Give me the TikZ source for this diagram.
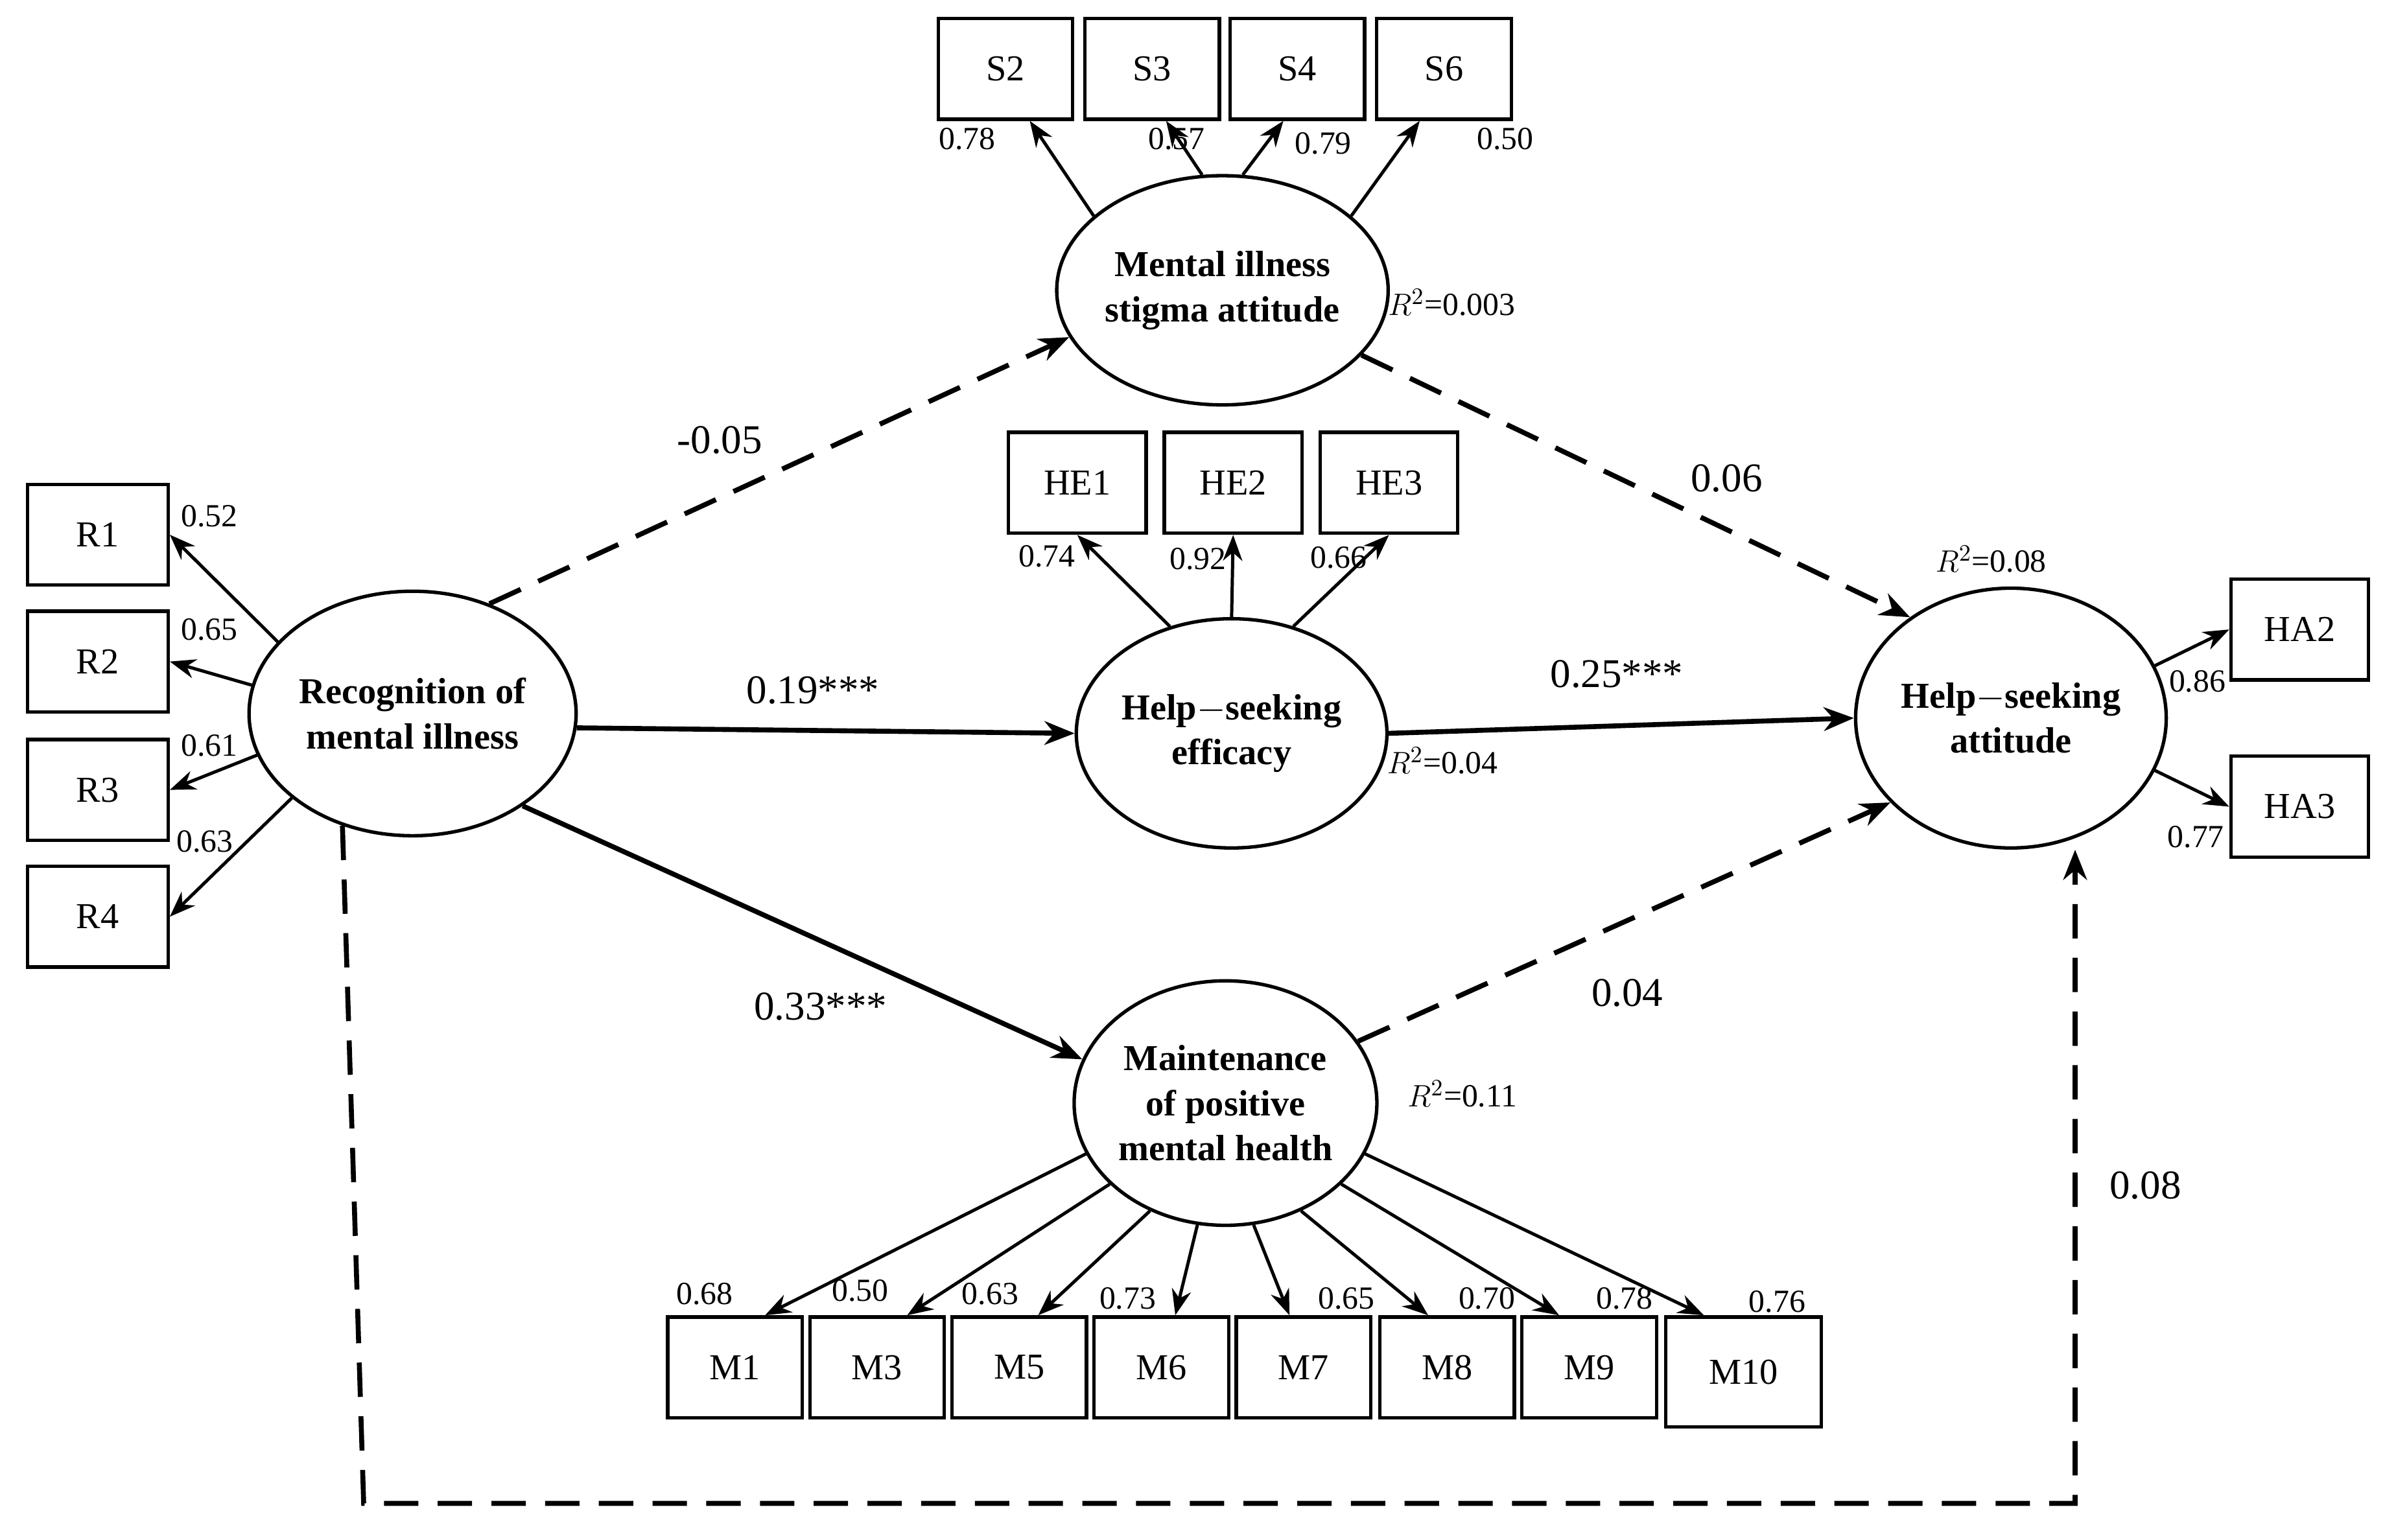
\documentclass[tikz,border=0pt]{standalone}
\usepackage{fontspec}
\setmainfont{Liberation Serif}
\usetikzlibrary{shapes.geometric,arrows.meta}
\begin{document}
\begin{tikzpicture}[x=0.025cm,y=-0.025cm,
  box/.style={draw,line width=1.6pt,minimum width=2.2cm,minimum height=1.65cm,inner sep=0pt,font=\fontsize{17}{20}\selectfont},
  lat/.style={draw,ellipse,line width=1.6pt,inner sep=0pt,align=center,font=\bfseries\fontsize{17}{21}\selectfont},
  ar/.style={line width=1.5pt,-{Stealth[length=12pt,width=9pt]}},
  thk/.style={line width=2.3pt,-{Stealth[length=14pt,width=11pt]}},
  dsh/.style={thk,dash pattern=on 16pt off 9pt},
  ld/.style={font=\fontsize{15}{17}\selectfont,inner sep=0pt},
  pl/.style={font=\fontsize{19}{22}\selectfont,inner sep=0pt}]
\useasboundingbox (0,0) rectangle (1568,1008);
% latent
\node[lat,minimum width=4.8cm,minimum height=3.75cm] (mi) at (800,190) {Mental illness\\stigma attitude};
\node[lat,minimum width=4.85cm,minimum height=3.75cm] (he) at (806,480) {Help$-$seeking\\efficacy};
\node[lat,minimum width=5.35cm,minimum height=4cm] (rec) at (270,467) {Recognition of\\mental illness};
\node[lat,minimum width=4.8cm,minimum height=4.25cm] (ha) at (1316,470) {Help$-$seeking\\attitude};
\node[lat,minimum width=4.85cm,minimum height=4cm] (mp) at (802,722) {Maintenance\\of positive\\mental health};
% boxes
\node[box] (S2) at (658,45) {S2};
\node[box] (S3) at (754,45) {S3};
\node[box] (S4) at (849,45) {S4};
\node[box] (S6) at (945,45) {S6};
\node[box,minimum width=2.25cm] (HE1) at (705,316) {HE1};
\node[box,minimum width=2.25cm] (HE2) at (807,316) {HE2};
\node[box,minimum width=2.25cm] (HE3) at (909,316) {HE3};
\node[box,minimum width=2.3cm] (R1) at (64,350) {R1};
\node[box,minimum width=2.3cm] (R2) at (64,433) {R2};
\node[box,minimum width=2.3cm] (R3) at (64,517) {R3};
\node[box,minimum width=2.3cm] (R4) at (64,600) {R4};
\node[box,minimum width=2.25cm] (HA2) at (1505,412) {HA2};
\node[box,minimum width=2.25cm] (HA3) at (1505,528) {HA3};
\node[box] (M1) at (481,895) {M1};
\node[box] (M3) at (574,895) {M3};
\node[box] (M5) at (667,895) {M5};
\node[box] (M6) at (760,895) {M6};
\node[box] (M7) at (853,895) {M7};
\node[box] (M8) at (947,895) {M8};
\node[box] (M9) at (1040,895) {M9};
\node[box,minimum width=2.55cm,minimum height=1.8cm] (M10) at (1141,898) {M10};
% indicator arrows
\draw[ar] (mi.150) -- (S2.-65);
\draw[ar] (mi.100) -- (S3.-75);
\draw[ar] (mi.80) -- (S4.-105);
\draw[ar] (mi.30) -- (S6.-115);
\draw[ar] (he.120) -- (HE1.-90);
\draw[ar] (he.90) -- (HE2.south);
\draw[ar] (he.60) -- (HE3.-90);
\draw[ar] (rec.152) -- (R1.east);
\draw[ar] (rec.170) -- (R2.east);
\draw[ar] (rec.195) -- (R3.east);
\draw[ar] (rec.215) -- (R4.east);
\draw[ar] (ha.20) -- (HA2.west);
\draw[ar] (ha.-20) -- (HA3.west);
\draw[ar] (mp.200) -- (M1.60);
\draw[ar] (mp.215) -- (M3.60);
\draw[ar] (mp.235) -- (M5.70);
\draw[ar] (mp.257) -- (M6.75);
\draw[ar] (mp.283) -- (M7.105);
\draw[ar] (mp.305) -- (M8.110);
\draw[ar] (mp.325) -- (M9.120);
\draw[ar] (mp.340) -- (M10.125);
% structural
\draw[dsh] (rec.55) -- (mi.197);
\draw[dsh] (mi.-25) -- (ha.135);
\draw[thk] (rec.-5) -- (he.west);
\draw[thk] (he.east) -- (ha.west);
\draw[thk] (rec.-40) -- (mp.163);
\draw[dsh] (mp.25) -- (ha.215);
\coordinate (c1) at (238,984);
\coordinate (c2) at (1358,984);
\draw[dsh] (rec.238) -- (238,984) -- (c2) -- (ha.south -| c2);
% path labels
\node[pl] (p1) at (471,288) {-0.05};
\node[pl] (p2) at (1130,313) {0.06};
\node[pl] (p3) at (532,452) {0.19***};
\node[pl] (p4) at (1058,441) {0.25***};
\node[pl] (p5) at (537,659) {0.33***};
\node[pl] (p6) at (1065,650) {0.04};
\node[pl] (p7) at (1404,776) {0.08};
% loadings
\node[ld] (l1) at (633,91) {0.78};
\node[ld] (l2) at (770,91) {0.57};
\node[ld] (l3) at (866,94) {0.79};
\node[ld] (l4) at (985,91) {0.50};
\node[ld] (l5) at (685,364) {0.74};
\node[ld] (l6) at (784,366) {0.92};
\node[ld] (l7) at (876,365) {0.66};
\node[ld] (l8) at (137,338) {0.52};
\node[ld] (l9) at (137,412) {0.65};
\node[ld] (l10) at (137,488) {0.61};
\node[ld] (l11) at (134,551) {0.63};
\node[ld] (l12) at (1438,446) {0.86};
\node[ld] (l13) at (1437,548) {0.77};
\node[ld] (l14) at (461,847) {0.68};
\node[ld] (l15) at (563,845) {0.50};
\node[ld] (l16) at (648,847) {0.63};
\node[ld] (l17) at (738,850) {0.73};
\node[ld] (l18) at (881,850) {0.65};
\node[ld] (l19) at (973,850) {0.70};
\node[ld] (l20) at (1063,850) {0.78};
\node[ld] (l21) at (1163,852) {0.76};
% R2
\node[ld] (r1) at (950,198) {$R^2$=0.003};
\node[ld] (r2) at (944,498) {$R^2$=0.04};
\node[ld] (r3) at (1303,366) {$R^2$=0.08};
\node[ld] (r4) at (957,716) {$R^2$=0.11};
\end{tikzpicture}
\end{document}
